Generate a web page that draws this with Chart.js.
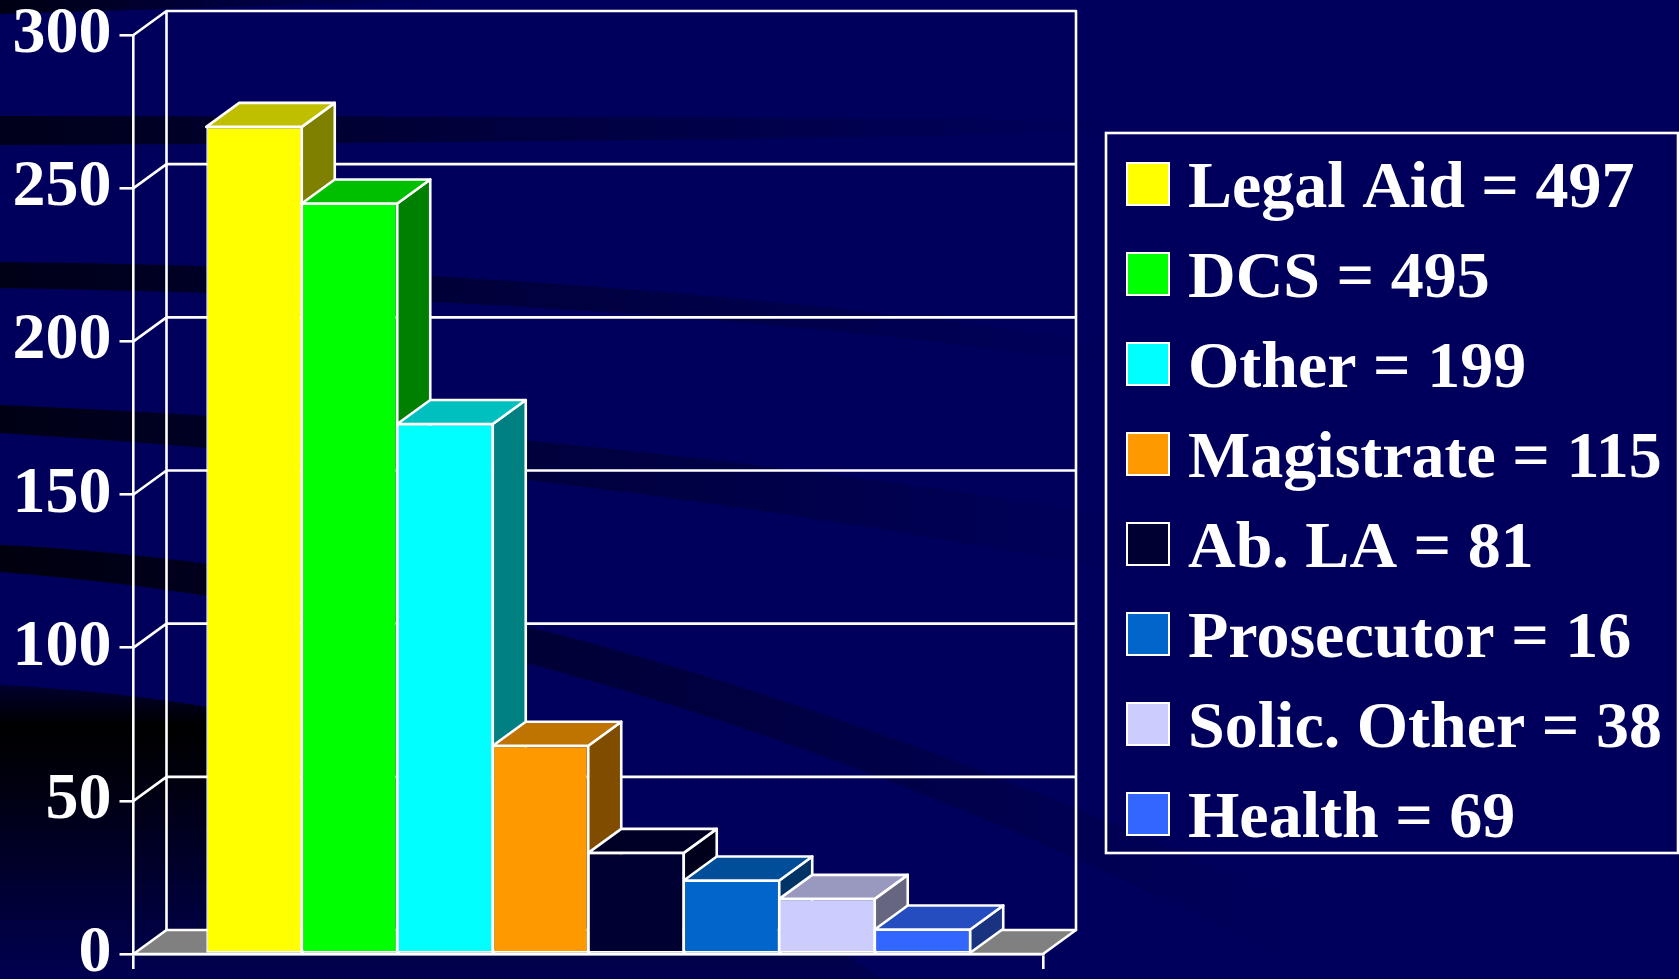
<!DOCTYPE html>
<html>
<head>
<meta charset="utf-8">
<style>html,body{margin:0;padding:0;background:#00005c;overflow:hidden}canvas{display:block}</style>
<script src="https://cdn.jsdelivr.net/npm/chart.js@4/dist/chart.umd.min.js"></script>
</head>
<body>
<canvas id="c" width="1679" height="979"></canvas>
<script>
const categories = [''];
const seriesNames = ['Legal Aid', 'DCS', 'Other', 'Magistrate', 'Ab. LA', 'Prosecutor', 'Solic. Other', 'Health'];
const barValues = [270, 245, 173, 68, 33, 24, 18, 8];
const legendCounts = [497, 495, 199, 115, 81, 16, 38, 69];
const seriesColors = ['#FFFF00', '#00FF00', '#00FFFF', '#FF9900', '#000033', '#0066CC', '#CCCCFF', '#3366FF'];
const yTicks = [0, 50, 100, 150, 200, 250, 300];

const FONT = '"Liberation Serif", serif';
const DX = 33, DY = 24;
const LINE = 2.6;

function shade(hex, f) {
  const n = parseInt(hex.slice(1), 16);
  const c = [(n >> 16) & 255, (n >> 8) & 255, n & 255].map(v => Math.round(v * f));
  return 'rgb(' + c.join(',') + ')';
}
function poly(ctx, pts, fill, stroke) {
  ctx.beginPath();
  pts.forEach((p, i) => i ? ctx.lineTo(p[0], p[1]) : ctx.moveTo(p[0], p[1]));
  ctx.closePath();
  if (fill) { ctx.fillStyle = fill; ctx.fill(); }
  if (stroke) { ctx.strokeStyle = stroke; ctx.lineWidth = LINE; ctx.lineJoin = 'round'; ctx.stroke(); }
}
function band(ctx, x0a, x0b, c1, c2, end, alpha) {
  const g = ctx.createLinearGradient(0, 0, end[0], 0);
  g.addColorStop(0, 'rgba(0,0,0,' + alpha + ')');
  g.addColorStop(0.45, 'rgba(0,0,0,' + alpha * 0.45 + ')');
  g.addColorStop(1, 'rgba(0,0,0,0)');
  ctx.fillStyle = g;
  ctx.beginPath();
  ctx.moveTo(0, x0a);
  ctx.quadraticCurveTo(c1[0], c1[1], end[0], end[1]);
  ctx.lineTo(end[0], end[2]);
  ctx.quadraticCurveTo(c2[0], c2[1], 0, x0b);
  ctx.closePath();
  ctx.fill();
}

const backdrop = {
  id: 'backdrop',
  beforeDraw(chart) {
    const ctx = chart.ctx;
    ctx.save();
    ctx.fillStyle = '#00005c';
    ctx.fillRect(0, 0, chart.width, chart.height);
    band(ctx, -2, 14, [200, -2], [200, 8], [470, -2, 0], 0.8);
    band(ctx, 116, 145, [600, 116], [600, 143], [1120, 120, 132], 0.72);
    band(ctx, 262, 288, [600, 268], [700, 300], [1130, 345, 368], 0.75);
    band(ctx, 405, 433, [600, 430], [600, 470], [1140, 520, 575], 0.78);
    band(ctx, 545, 572, [560, 570], [620, 620], [1290, 900, 960], 0.85);
    const g = ctx.createLinearGradient(0, 690, 0, 985);
    g.addColorStop(0, 'rgba(0,0,0,0.55)');
    g.addColorStop(0.12, 'rgba(0,0,0,1)');
    g.addColorStop(0.3, 'rgba(0,0,0,0.85)');
    g.addColorStop(1, 'rgba(0,0,0,0.1)');
    ctx.fillStyle = g;
    ctx.beginPath();
    ctx.moveTo(0, 685);
    ctx.quadraticCurveTo(500, 710, 890, 985);
    ctx.lineTo(0, 985);
    ctx.closePath();
    ctx.fill();
    ctx.restore();
  },
  beforeDatasetsDraw(chart) {
    const ctx = chart.ctx, y = chart.scales.y, a = chart.chartArea;
    ctx.save();
    const base = y.getPixelForValue(0), top = y.getPixelForValue(300);
    poly(ctx, [[a.left, base], [a.right, base], [a.right + DX, base - DY], [a.left + DX, base - DY]], '#808080', '#ffffff');
    ctx.strokeStyle = '#ffffff';
    ctx.lineWidth = LINE;
    ctx.lineCap = 'round';
    ctx.beginPath();
    ctx.moveTo(a.left + DX, base - DY); ctx.lineTo(a.left + DX, top - DY);
    ctx.moveTo(a.right + DX, base - DY); ctx.lineTo(a.right + DX, top - DY);
    yTicks.forEach(v => {
      const py = y.getPixelForValue(v);
      if (v > 0) {
        ctx.moveTo(a.left, py); ctx.lineTo(a.left + DX, py - DY);
        ctx.lineTo(a.right + DX, py - DY);
      }
    });
    ctx.stroke();
    chart.data.datasets.forEach((ds, i) => {
      const el = chart.getDatasetMeta(i).data[0];
      const p = el.getProps(['x', 'y', 'base', 'width'], true);
      const L = p.x - p.width / 2, R = p.x + p.width / 2, T = p.y, B = p.base;
      const c = ds.backgroundColor;
      poly(ctx, [[R, T], [R + DX, T - DY], [R + DX, B - DY], [R, B]], shade(c, 0.5), '#ffffff');
      poly(ctx, [[L, T], [L + DX, T - DY], [R + DX, T - DY], [R, T]], shade(c, 0.75), '#ffffff');
    });
    ctx.restore();
  },
  afterDraw(chart) {
    const ctx = chart.ctx;
    ctx.save();
    ctx.strokeStyle = '#ffffff';
    ctx.lineWidth = LINE;
    ctx.strokeRect(1106, 133, 572, 720);
    ctx.textBaseline = 'alphabetic';
    ctx.textAlign = 'left';
    ctx.font = 'bold 66px ' + FONT;
    seriesNames.forEach((name, i) => {
      const boxTop = 163 + i * 90;
      ctx.fillStyle = seriesColors[i];
      ctx.fillRect(1127, boxTop, 42, 42);
      ctx.strokeStyle = '#ffffff';
      ctx.lineWidth = 2;
      ctx.strokeRect(1127, boxTop, 42, 42);
      ctx.fillStyle = '#ffffff';
      ctx.fillText(name + ' = ' + legendCounts[i], 1188, 207 + i * 90);
    });
    ctx.restore();
  }
};

new Chart(document.getElementById('c'), {
  type: 'bar',
  data: {
    labels: categories,
    datasets: seriesNames.map((name, i) => ({
      label: name,
      data: [barValues[i]],
      backgroundColor: seriesColors[i],
      borderColor: '#ffffff',
      borderWidth: 1.6,
      borderSkipped: false
    }))
  },
  plugins: [backdrop],
  options: {
    responsive: false,
    animation: false,
    events: [],
    devicePixelRatio: 1,
    layout: { padding: { top: 35, right: 636, bottom: 0, left: 0 } },
    datasets: { bar: { barPercentage: 1, categoryPercentage: 0.84 } },
    plugins: { legend: { display: false }, tooltip: { enabled: false }, title: { display: false } },
    scales: {
      x: {
        afterFit(s) { s.height = 25; s.paddingLeft = 0; s.paddingRight = 0; },
        offset: true,
        ticks: { display: false },
        grid: { color: '#ffffff', lineWidth: LINE, drawOnChartArea: false, drawTicks: true, tickLength: 15, offset: true },
        border: { color: '#ffffff', width: LINE, z: 2 }
      },
      y: {
        afterFit(s) { s.width = 133.5; s.paddingTop = 0; s.paddingBottom = 0; },
        min: 0,
        max: 300,
        ticks: {
          stepSize: 50,
          color: '#ffffff',
          padding: 8,
          autoSkip: false,
          font: { family: FONT, size: 66, weight: 'bold' }
        },
        grid: { color: '#ffffff', lineWidth: LINE, drawOnChartArea: false, tickLength: 14 },
        border: { color: '#ffffff', width: LINE }
      }
    }
  }
});
</script>
</body>
</html>
